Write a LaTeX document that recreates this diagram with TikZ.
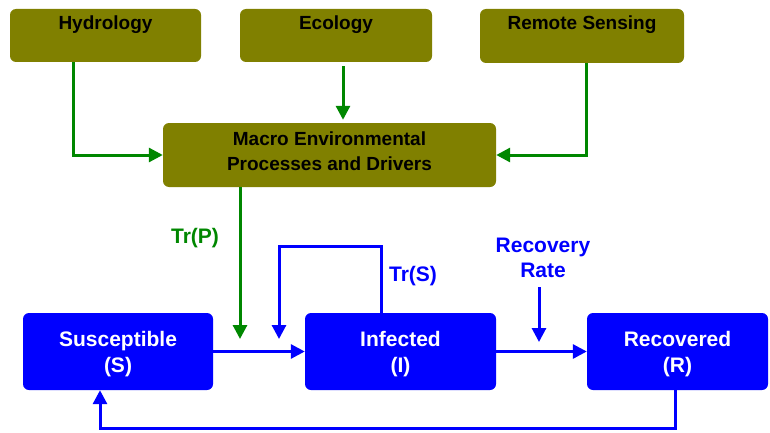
\documentclass[tikz,border=0pt]{standalone}
\usepackage{fontspec}
\setmainfont{Liberation Sans}
\usetikzlibrary{arrows.meta}
\definecolor{olivebox}{RGB}{128,128,0}
\definecolor{garr}{RGB}{0,135,0}
\definecolor{bluebox}{RGB}{0,0,255}
\tikzset{
  obox/.style={fill=olivebox, draw=none, rounded corners=6pt, inner sep=0pt},
  bbox/.style={fill=bluebox, draw=none, rounded corners=6pt, inner sep=0pt},
  otext/.style={inner sep=0pt, anchor=base, text=black, align=center, font=\fontsize{19}{25}\selectfont\bfseries},
  btext/.style={inner sep=0pt, anchor=base, text=white, align=center, font=\fontsize{21}{26}\selectfont\bfseries},
  lbl/.style={inner sep=0pt, anchor=base, align=center, font=\fontsize{21}{25}\selectfont\bfseries},
  garrow/.style={draw=garr, line width=3pt, -{Triangle[length=14pt,width=14pt]}},
  barrow/.style={draw=bluebox, line width=3pt, -{Triangle[length=14pt,width=14pt]}},
}
\begin{document}
\begin{tikzpicture}[x=1pt,y=-1pt]
\useasboundingbox (0,0) rectangle (770,433);
% olive boxes
\node[obox, minimum width=191pt, minimum height=53pt] (hyd) at (105.5,35.5) {};
\node[obox, minimum width=192pt, minimum height=53pt] (eco) at (336,35.5) {};
\node[obox, minimum width=204pt, minimum height=54pt] (rs) at (582,36) {};
\node[obox, minimum width=333pt, minimum height=64pt] (mac) at (329.5,155) {};
\node[otext] (hydt) at (105.5,29.5) {Hydrology};
\node[otext] (ecot) at (336,29.5) {Ecology};
\node[otext] (rst) at (582,29.5) {Remote Sensing};
\node[otext] (mact) at (329.5,170) {Macro Environmental\\Processes and Drivers};
% blue boxes
\node[bbox, minimum width=190pt, minimum height=77pt] (sus) at (118,351.5) {};
\node[bbox, minimum width=191pt, minimum height=77pt] (inf) at (400.5,351.5) {};
\node[bbox, minimum width=181pt, minimum height=77pt] (rec) at (677.5,351.5) {};
\node[btext] (sust) at (118,372) {Susceptible\\(S)};
\node[btext] (inft) at (400.5,372) {Infected\\(I)};
\node[btext] (rect) at (677.5,372) {Recovered\\(R)};
% labels
\node[lbl, text=garr] (trp) at (195,243) {Tr(P)};
\node[lbl, text=bluebox] (trs) at (413,281) {Tr(S)};
\node[lbl, text=bluebox] (rr) at (543,277) {Recovery\\Rate};
% coordinates
\coordinate (tpend) at (240,339);
\coordinate (lp) at (279,246);
\coordinate (lpe) at (279,339);
\coordinate (rrs) at (539,287);
\coordinate (rre) at (539,342);
% green arrows
\draw[garrow] ([xshift=-32.5pt]hyd.south) |- (mac.west);
\draw[garrow, shorten <=4pt, shorten >=3pt] ([xshift=7pt]eco.south) -- ([xshift=7pt]eco.south |- mac.north);
\draw[garrow] ([xshift=4pt]rs.south) |- (mac.east);
\draw[garrow] ([xshift=-89.5pt]mac.south) -- (tpend);
% blue arrows
\draw[barrow] (sus.east) -- (inf.west);
\draw[barrow] (inf.east) -- (rec.west);
\draw[barrow] ([xshift=-19.5pt]inf.north) |- (lp) -- (lpe);
\draw[barrow] (rrs) -- (rre);
\draw[barrow] ([xshift=-2.5pt]rec.south) -- ++(0,38) -| ([xshift=-18pt]sus.south);
\end{tikzpicture}
\end{document}
